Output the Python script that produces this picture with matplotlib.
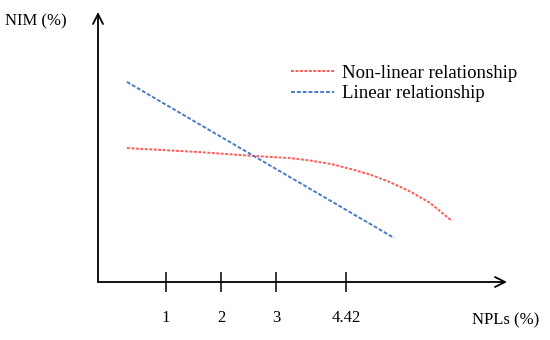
import matplotlib.pyplot as plt

plt.rcParams["font.family"] = ["Liberation Serif", "DejaVu Serif"]

# NPL (x) / NIM (y) values, arbitrary units
linear_x = [0.29, 5.15]
linear_y = [7.41, 1.63]

nonlinear_x = [0.29, 1.62, 2.58, 3.25, 3.62, 4.00, 4.35, 4.71, 5.07, 5.44, 5.80, 6.20]
nonlinear_y = [4.96, 4.81, 4.67, 4.59, 4.50, 4.37, 4.19, 3.98, 3.70, 3.35, 2.93, 2.26]

tick_pos = [1, 2, 3, 4.27]
tick_labels = ["1", "2", "3", "4.42"]

W, H = 550, 340
fig = plt.figure(figsize=(5.5, 3.4), dpi=100)
ax = fig.add_axes([98 / W, 58 / H, 409 / W, 270 / H])
ax.set_xlim(-0.236, 7.2)
ax.set_ylim(0, 10)

for side in ["top", "right", "left", "bottom"]:
    ax.spines[side].set_visible(False)

# axes drawn as arrows
arrow = dict(arrowstyle="->", color="black", lw=1.3, mutation_scale=18, shrinkA=0, shrinkB=0)
ax.annotate("", xy=(1, 0), xytext=(0, 0), xycoords="axes fraction", arrowprops=arrow)
ax.annotate("", xy=(0, 1), xytext=(0, 0), xycoords="axes fraction", arrowprops=arrow)

ax.plot(nonlinear_x, nonlinear_y, color="#ff5a5a", lw=1.4, ls=(0, (1.5, 0.8)),
        label="Non-linear relationship")
ax.plot(linear_x, linear_y, color="#4a7cc8", lw=1.4, ls=(0, (2, 1)),
        label="Linear relationship")

ax.set_xticks(tick_pos)
ax.set_xticklabels(tick_labels, fontsize=12)
ax.set_yticks([])
ax.tick_params(axis="x", direction="inout", length=15, width=1.1, pad=13)

fig.text(5 / W, 1 - 21 / H, "NIM (%)", fontsize=12, va="center", ha="left")
fig.text(472 / W, 1 - 320 / H, "NPLs (%)", fontsize=12, va="center", ha="left")

fig.legend(loc="upper left", bbox_to_anchor=(283 / W, 1 - 57 / H), frameon=False,
           fontsize=13.5, handlelength=2.3, handletextpad=0.45, labelspacing=0.2,
           borderaxespad=0)

fig.savefig("out.png", dpi=100)
